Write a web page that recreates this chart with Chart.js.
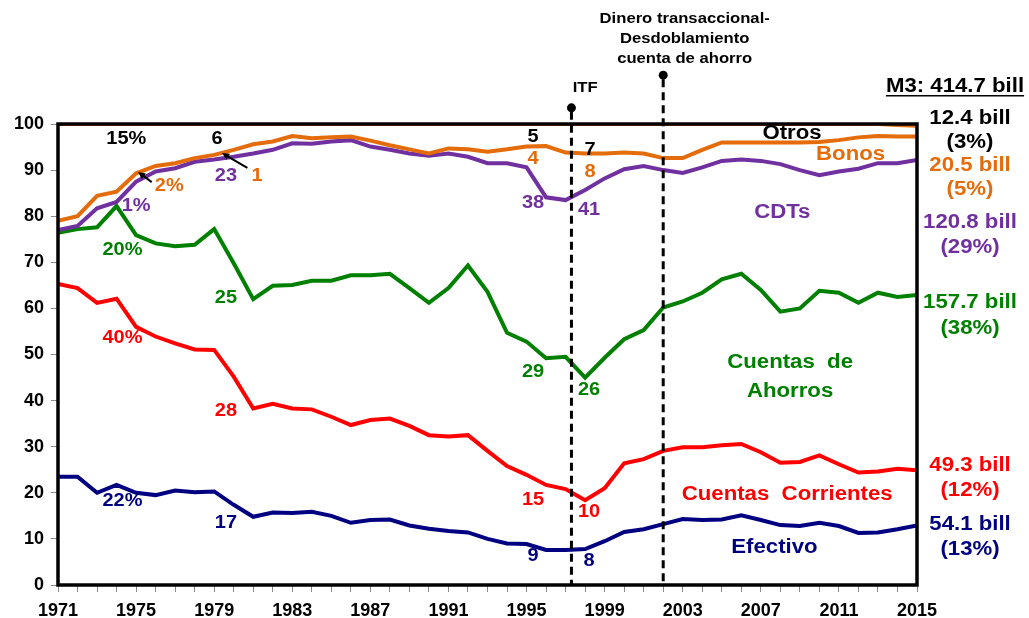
<!DOCTYPE html>
<html>
<head>
<meta charset="utf-8">
<script src="https://cdn.jsdelivr.net/npm/chart.js@4.4.1/dist/chart.umd.min.js"></script>
<style>
  body { margin: 0; background: #fff; }
  #wrap { width: 1029px; height: 618px; }
</style>
</head>
<body>
<div id="wrap"><canvas id="m3Chart"></canvas></div>
<script>
// composicion del M3 (participacion acumulada, %)
var years = [1971, 1972, 1973, 1974, 1975, 1976, 1977, 1978, 1979, 1980,
             1981, 1982, 1983, 1984, 1985, 1986, 1987, 1988, 1989, 1990,
             1991, 1992, 1993, 1994, 1995, 1996, 1997, 1998, 1999, 2000,
             2001, 2002, 2003, 2004, 2005, 2006, 2007, 2008, 2009, 2010,
             2011, 2012, 2013, 2014, 2015];

var efectivo = [23.5, 23.5, 20.0, 21.7, 20.0, 19.5, 20.5, 20.1, 20.3, 17.4,
                14.8, 15.7, 15.6, 15.9, 15.0, 13.5, 14.1, 14.2, 12.9, 12.2,
                11.7, 11.4, 10.0, 9.0, 8.9, 7.6, 7.6, 7.8, 9.5, 11.5,
                12.1, 13.2, 14.3, 14.1, 14.2, 15.1, 14.1, 13.0, 12.8, 13.5,
                12.8, 11.3, 11.4, 12.1, 12.9];

var corrientes = [65.3, 64.4, 61.2, 62.1, 56.0, 53.9, 52.4, 51.1, 51.0, 45.2,
                  38.3, 39.3, 38.3, 38.1, 36.5, 34.7, 35.8, 36.1, 34.5, 32.5,
                  32.2, 32.5, 29.1, 25.8, 23.9, 21.7, 20.8, 18.4, 21.0, 26.4,
                  27.3, 29.1, 29.9, 29.9, 30.3, 30.6, 28.8, 26.5, 26.7, 28.1,
                  26.2, 24.4, 24.6, 25.2, 24.9];

var ahorros = [76.4, 77.2, 77.6, 82.2, 75.9, 74.1, 73.5, 73.8, 77.2, 69.8,
               62.0, 64.9, 65.1, 66.0, 66.0, 67.2, 67.2, 67.5, 64.4, 61.2,
               64.4, 69.3, 63.6, 54.7, 52.8, 49.2, 49.5, 45.0, 49.3, 53.3,
               55.3, 60.2, 61.5, 63.4, 66.3, 67.5, 64.0, 59.3, 60.0, 63.8,
               63.4, 61.2, 63.4, 62.5, 62.9];

var cdts = [77.0, 77.9, 81.7, 83.1, 87.5, 89.7, 90.4, 91.8, 92.3, 92.9,
            93.6, 94.4, 95.8, 95.7, 96.2, 96.5, 95.1, 94.4, 93.6, 93.1,
            93.6, 92.9, 91.5, 91.5, 90.6, 84.1, 83.5, 85.7, 88.2, 90.2,
            90.9, 90.0, 89.4, 90.6, 92.0, 92.3, 92.0, 91.3, 90.0, 88.9,
            89.7, 90.3, 91.5, 91.5, 92.2];

var bonos = [79.0, 80.0, 84.4, 85.3, 89.3, 90.9, 91.5, 92.6, 93.3, 94.4,
             95.6, 96.2, 97.4, 96.9, 97.1, 97.3, 96.4, 95.4, 94.5, 93.6,
             94.7, 94.5, 94.0, 94.5, 95.1, 95.2, 93.8, 93.6, 93.6, 93.8,
             93.6, 92.6, 92.6, 94.4, 96.0, 96.0, 96.0, 96.0, 96.0, 96.1,
             96.5, 97.1, 97.4, 97.3, 97.3];

var total = [100, 100, 100, 100, 100, 100, 100, 100, 100, 100,
             100, 100, 100, 100, 100, 100, 100, 100, 100, 100,
             100, 100, 100, 100, 100, 100, 100, 100, 100, 100,
             100, 100, 100, 100, 100, 100, 100, 100, 100, 100,
             100, 100, 100, 99.8, 99.6];

var yTicks = [0, 10, 20, 30, 40, 50, 60, 70, 80, 90, 100];
var xLabels = [1971, 1975, 1979, 1983, 1987, 1991, 1995, 1999, 2003, 2007, 2011, 2015];

// eventos
var itfYear = 1997.3;
var dineroYear = 2002;

var NAVY = '#000080', RED = '#ff0000', GREEN = '#008000', PURPLE = '#7030a0', ORANGE = '#e46c0a';
var FONT = '"Liberation Sans", Arial, sans-serif';

// etiquetas dentro del grafico: [texto, color, ano, valor, tamano]
var notes = [
    ['15%', '#000', 1974.5, 96.7, 18], ['6', '#000', 1979.15, 96.7, 18],
    ['2%', ORANGE, 1976.7, 86.6, 18], ['1%', PURPLE, 1975.0, 82.2, 18],
    ['23', PURPLE, 1979.6, 88.7, 18], ['1', ORANGE, 1981.2, 88.7, 18],
    ['20%', GREEN, 1974.3, 72.7, 18], ['25', GREEN, 1979.6, 62.3, 18],
    ['40%', RED, 1974.3, 53.6, 18], ['28', RED, 1979.6, 37.7, 18],
    ['22%', NAVY, 1974.3, 18.2, 18], ['17', NAVY, 1979.6, 13.4, 18],
    ['5', '#000', 1995.33, 97.2, 18], ['4', ORANGE, 1995.33, 92.4, 18],
    ['7', '#000', 1998.25, 94.4, 18], ['8', ORANGE, 1998.25, 89.6, 18],
    ['38', PURPLE, 1995.33, 82.9, 18], ['41', PURPLE, 1998.2, 81.3, 18],
    ['29', GREEN, 1995.33, 46.2, 18], ['26', GREEN, 1998.2, 42.3, 18],
    ['15', RED, 1995.33, 18.4, 18], ['10', RED, 1998.2, 15.8, 18],
    ['9', NAVY, 1995.33, 6.3, 18], ['8', NAVY, 1998.2, 5.2, 18],
    ['Otros', '#000', 2008.6, 98.0, 20], ['Bonos', ORANGE, 2011.6, 93.3, 20],
    ['CDTs', PURPLE, 2008.1, 80.7, 20],
    ['Cuentas  de', GREEN, 2008.5, 48.2, 20], ['Ahorros', GREEN, 2008.5, 41.9, 20],
    ['Cuentas  Corrientes', RED, 2008.35, 19.7, 20],
    ['Efectivo', NAVY, 2007.7, 8.2, 20],
    ['ITF', '#000', 1998.0, 107.8, 15],
    ['Dinero transaccional-', '#000', 2003.1, 122.8, 15],
    ['Desdoblamiento', '#000', 2003.1, 118.5, 15],
    ['cuenta de ahorro', '#000', 2003.1, 114.1, 15]
];

// etiquetas a la derecha: [texto, color, valor]
var sideNotes = [
    ['12.4 bill', '#000', 101.3], ['(3%)', '#000', 95.9],
    ['20.5 bill', ORANGE, 90.9], ['(5%)', ORANGE, 85.7],
    ['120.8 bill', PURPLE, 78.7], ['(29%)', PURPLE, 73.3],
    ['157.7 bill', GREEN, 61.2], ['(38%)', GREEN, 55.7],
    ['49.3 bill', RED, 26.0], ['(12%)', RED, 20.4],
    ['54.1 bill', NAVY, 13.2], ['(13%)', NAVY, 7.8]
];

// flechas: [desde ano, desde valor, hasta ano, hasta valor]
var arrows = [
    [1975.8, 87.4, 1975.1, 89.6],
    [1980.7, 90.5, 1979.4, 93.7]
];

var STRETCH = 1.11; // el original tiene el texto algo ensanchado

function pts(arr) {
    return years.map(function(y, i) { return { x: y, y: arr[i] }; });
}

function series(label, arr, color) {
    return { label: label, data: pts(arr), borderColor: color, backgroundColor: color,
             borderWidth: 4, pointRadius: 0, tension: 0, fill: false };
}

function wideText(ctx, text, x, y) {
    ctx.save();
    ctx.translate(x, y);
    ctx.scale(STRETCH, 1);
    ctx.fillText(text, 0, 0);
    ctx.restore();
}

var extras = {
    id: 'extras',
    afterDatasetsDraw: function(chart) {
        var ctx = chart.ctx, a = chart.chartArea;
        var xs = chart.scales.x, ys = chart.scales.y;
        ctx.save();

        // marco
        ctx.strokeStyle = '#000';
        ctx.lineWidth = 3.5;
        ctx.strokeRect(a.left, a.top, a.right - a.left, a.bottom - a.top);

        // lineas verticales de eventos
        [[itfYear, 103.5], [dineroYear, 110.6]].forEach(function(ev) {
            var x = xs.getPixelForValue(ev[0]);
            var top = ys.getPixelForValue(ev[1]);
            ctx.setLineDash([8, 5]);
            ctx.lineWidth = 3;
            ctx.beginPath();
            ctx.moveTo(x, top + 4);
            ctx.lineTo(x, a.bottom);
            ctx.stroke();
            ctx.setLineDash([]);
            ctx.fillStyle = '#000';
            ctx.beginPath();
            ctx.arc(x, top, 4.5, 0, Math.PI * 2);
            ctx.fill();
        });

        // flechas
        ctx.strokeStyle = '#000';
        ctx.fillStyle = '#000';
        ctx.lineWidth = 2;
        arrows.forEach(function(ar) {
            var x1 = xs.getPixelForValue(ar[0]), y1 = ys.getPixelForValue(ar[1]);
            var x2 = xs.getPixelForValue(ar[2]), y2 = ys.getPixelForValue(ar[3]);
            var ang = Math.atan2(y2 - y1, x2 - x1);
            ctx.beginPath();
            ctx.moveTo(x1, y1);
            ctx.lineTo(x2 - 5 * Math.cos(ang), y2 - 5 * Math.sin(ang));
            ctx.stroke();
            ctx.beginPath();
            ctx.moveTo(x2, y2);
            ctx.lineTo(x2 - 8 * Math.cos(ang - 0.45), y2 - 8 * Math.sin(ang - 0.45));
            ctx.lineTo(x2 - 8 * Math.cos(ang + 0.45), y2 - 8 * Math.sin(ang + 0.45));
            ctx.closePath();
            ctx.fill();
        });

        // textos
        ctx.textAlign = 'center';
        ctx.textBaseline = 'middle';
        notes.forEach(function(n) {
            ctx.font = 'bold ' + n[4] + 'px ' + FONT;
            ctx.fillStyle = n[1];
            wideText(ctx, n[0], xs.getPixelForValue(n[2]), ys.getPixelForValue(n[3]));
        });

        ctx.font = 'bold 20px ' + FONT;
        sideNotes.forEach(function(n) {
            ctx.fillStyle = n[1];
            wideText(ctx, n[0], a.right + 53, ys.getPixelForValue(n[2]));
        });

        // M3 total subrayado
        var mx = a.right + 38, my = ys.getPixelForValue(108.1);
        ctx.fillStyle = '#000';
        wideText(ctx, 'M3: 414.7 bill', mx, my);
        var w = ctx.measureText('M3: 414.7 bill').width * STRETCH;
        ctx.lineWidth = 1.5;
        ctx.beginPath();
        ctx.moveTo(mx - w / 2, my + 9);
        ctx.lineTo(mx + w / 2, my + 9);
        ctx.stroke();

        ctx.restore();
    }
};

document.addEventListener("DOMContentLoaded", function() {
    var ctx = document.getElementById('m3Chart').getContext('2d');

    var m3Chart = new Chart(ctx, {
        type: 'line',
        data: {
            datasets: [
                series('Otros', total, ORANGE),
                series('Bonos', bonos, ORANGE),
                series('CDTs', cdts, PURPLE),
                series('Cuentas de Ahorros', ahorros, GREEN),
                series('Cuentas Corrientes', corrientes, RED),
                series('Efectivo', efectivo, NAVY)
            ]
        },
        options: {
            responsive: true,
            maintainAspectRatio: false,
            animation: false,
            layout: { padding: { top: 124, right: 112, left: 0, bottom: 0 } },
            plugins: { legend: { display: false }, tooltip: { enabled: false } },
            scales: {
                x: {
                    type: 'linear',
                    min: 1971,
                    max: 2015,
                    afterBuildTicks: function(scale) {
                        scale.ticks = years.map(function(y) { return { value: y }; });
                    },
                    afterFit: function(scale) { scale.height = 33; },
                    ticks: {
                        autoSkip: false,
                        maxRotation: 0,
                        padding: 8,
                        color: '#000',
                        font: { family: FONT, size: 18, weight: 'bold' },
                        callback: function(v) { return xLabels.indexOf(v) >= 0 ? String(v) : ''; }
                    },
                    grid: { drawOnChartArea: false, drawTicks: true, tickLength: 7, color: '#888' },
                    border: { display: false }
                },
                y: {
                    min: 0,
                    max: 100,
                    afterBuildTicks: function(scale) {
                        scale.ticks = yTicks.map(function(v) { return { value: v }; });
                    },
                    afterFit: function(scale) { scale.width = 58; },
                    ticks: {
                        padding: 7,
                        color: '#000',
                        font: { family: FONT, size: 18, weight: 'bold' }
                    },
                    grid: { drawOnChartArea: false, drawTicks: true, tickLength: 7, color: '#888' },
                    border: { display: false }
                }
            }
        },
        plugins: [extras]
    });
});
</script>
</body>
</html>
